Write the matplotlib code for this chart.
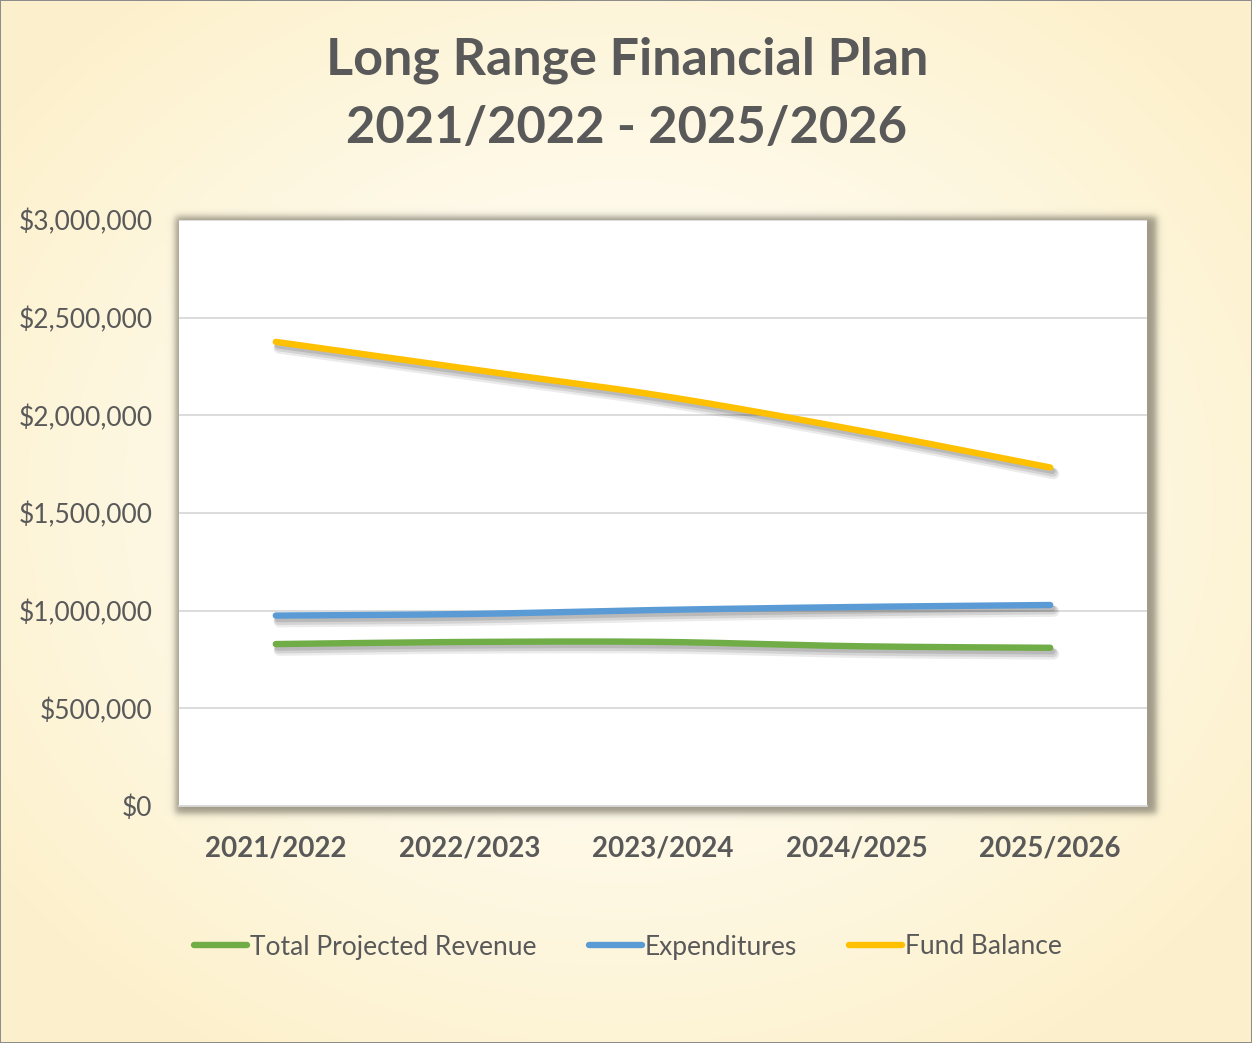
import numpy as np
import matplotlib
matplotlib.use("Agg")
import matplotlib.pyplot as plt
import matplotlib.patheffects as pe
from matplotlib.ticker import FuncFormatter, MultipleLocator
from matplotlib.lines import Line2D

years = ["2021/2022", "2022/2023", "2023/2024", "2024/2025", "2025/2026"]
revenue = [829000, 840000, 840000, 818000, 810000]
expenditures = [975000, 983000, 1004000, 1019000, 1029000]
fund_balance = [2376000, 2237000, 2099000, 1925000, 1733000]
series_names = ["Total Projected Revenue", "Expenditures", "Fund Balance"]
series_colors = ["#70AD47", "#5B9BD5", "#FFC000"]

W, H = 1252, 1043
FONT = ["Lato", "DejaVu Sans"]
TXT = "#595959"
plt.rcParams["font.family"] = FONT

fig = plt.figure(figsize=(W / 100, H / 100), dpi=100)

# axes placement in pixels
L, R, T, B = 179, 1147, 220, 806

# background: radial gradient + plot-area shadow
yy, xx = np.mgrid[0:H, 0:W].astype(float)
cx, cy = 620, 500
r = np.sqrt(((xx - cx) / 760) ** 2 + ((yy - cy) / 640) ** 2)
r = np.clip(r, 0, 1)
c_in = np.array([1.0, 1.0, 0.985])
c_out = np.array([0.992, 0.945, 0.80])
t = r[..., None] ** 1.3
img = c_in * (1 - t) + c_out * t

def soft(v, s):
    return 0.5 * (1 + np.tanh(v / s))

s = 4.0
cov = soft(xx - (L - 4), s) * soft((R + 9) - xx, s) * soft(yy - (T - 4), s) * soft((B + 7) - yy, s)
shadow_col = np.array([0.50, 0.48, 0.42])
a = 0.75 * cov[..., None]
img = img * (1 - a) + shadow_col * a
# outer frame
img[0, :] = img[-1, :] = 0.55
img[:, 0] = img[:, -1] = 0.55

bg = fig.add_axes([0, 0, 1, 1])
bg.imshow(img, aspect="auto", interpolation="bilinear", extent=(0, W, H, 0))
bg.set_axis_off()

ax = fig.add_axes([L / W, 1 - B / H, (R - L) / W, (B - T) / H])
ax.set_facecolor("white")
x = np.arange(len(years))
ax.set_xlim(-0.5, len(years) - 0.5)
ax.set_ylim(0, 3000000)
ax.yaxis.set_major_locator(MultipleLocator(500000))
ax.yaxis.set_major_formatter(FuncFormatter(lambda v, p: "${:,.0f}".format(v)))
ax.grid(axis="y", color="#D9D9D9", linewidth=1.3)
ax.set_axisbelow(True)
for sp in ["top", "right", "left"]:
    ax.spines[sp].set_visible(False)
ax.spines["bottom"].set_color("#D9D9D9")
ax.spines["bottom"].set_linewidth(1.3)
ax.tick_params(axis="both", length=0)
ax.tick_params(axis="y", pad=19, labelsize=19, labelcolor=TXT)
ax.tick_params(axis="x", pad=21, labelsize=20, labelcolor=TXT)
ax.set_xticks(x)
ax.set_xticklabels(years, fontweight="bold")


def smooth(xs, ys, n=40):
    xs = np.asarray(xs, float)
    ys = np.asarray(ys, float)
    px = np.concatenate([[xs[0]], xs, [xs[-1]]])
    py = np.concatenate([[ys[0]], ys, [ys[-1]]])
    outx, outy = [], []
    tt = np.linspace(0, 1, n)
    for i in range(1, len(px) - 2):
        p0x, p3x = px[i], px[i + 1]
        p0y, p3y = py[i], py[i + 1]
        p1x = p0x + (px[i + 1] - px[i - 1]) / 6
        p1y = p0y + (py[i + 1] - py[i - 1]) / 6
        p2x = p3x - (px[i + 2] - px[i]) / 6
        p2y = p3y - (py[i + 2] - py[i]) / 6
        bx = (1 - tt) ** 3 * p0x + 3 * (1 - tt) ** 2 * tt * p1x + 3 * (1 - tt) * tt ** 2 * p2x + tt ** 3 * p3x
        by = (1 - tt) ** 3 * p0y + 3 * (1 - tt) ** 2 * tt * p1y + 3 * (1 - tt) * tt ** 2 * p2y + tt ** 3 * p3y
        outx.append(bx)
        outy.append(by)
    return np.concatenate(outx), np.concatenate(outy)


effects = [pe.SimpleLineShadow(offset=(2.5, -4.5), shadow_color="#000000", alpha=0.08, linewidth=8),
           pe.SimpleLineShadow(offset=(2.0, -3.5), shadow_color="#000000", alpha=0.10, linewidth=6.5),
           pe.SimpleLineShadow(offset=(1.5, -2.5), shadow_color="#000000", alpha=0.12),
           pe.Normal()]
for vals, col in zip([revenue, expenditures, fund_balance], series_colors):
    sx, sy = smooth(x, vals)
    ax.plot(sx, sy, color=col, linewidth=4.6, solid_capstyle="round",
            path_effects=effects, zorder=3)

# title
fig.text(627 / W, 1 - 60 / H, "Long Range Financial Plan", ha="center", va="center",
         fontsize=37.5, fontweight="bold", color=TXT)
fig.text(627 / W, 1 - 128 / H, "2021/2022 - 2025/2026", ha="center", va="center",
         fontsize=36.5, fontweight="bold", color=TXT)

handles = [Line2D([0], [0], color=c, linewidth=4.6, solid_capstyle="round") for c in series_colors]
leg = fig.legend(handles, series_names, loc="center", bbox_to_anchor=(628 / W, 1 - 947 / H),
                 ncol=3, frameon=False, fontsize=19, handlelength=2.0, handletextpad=0.1,
                 columnspacing=2.0, labelcolor=TXT)

fig.savefig("out.png", dpi=100)
